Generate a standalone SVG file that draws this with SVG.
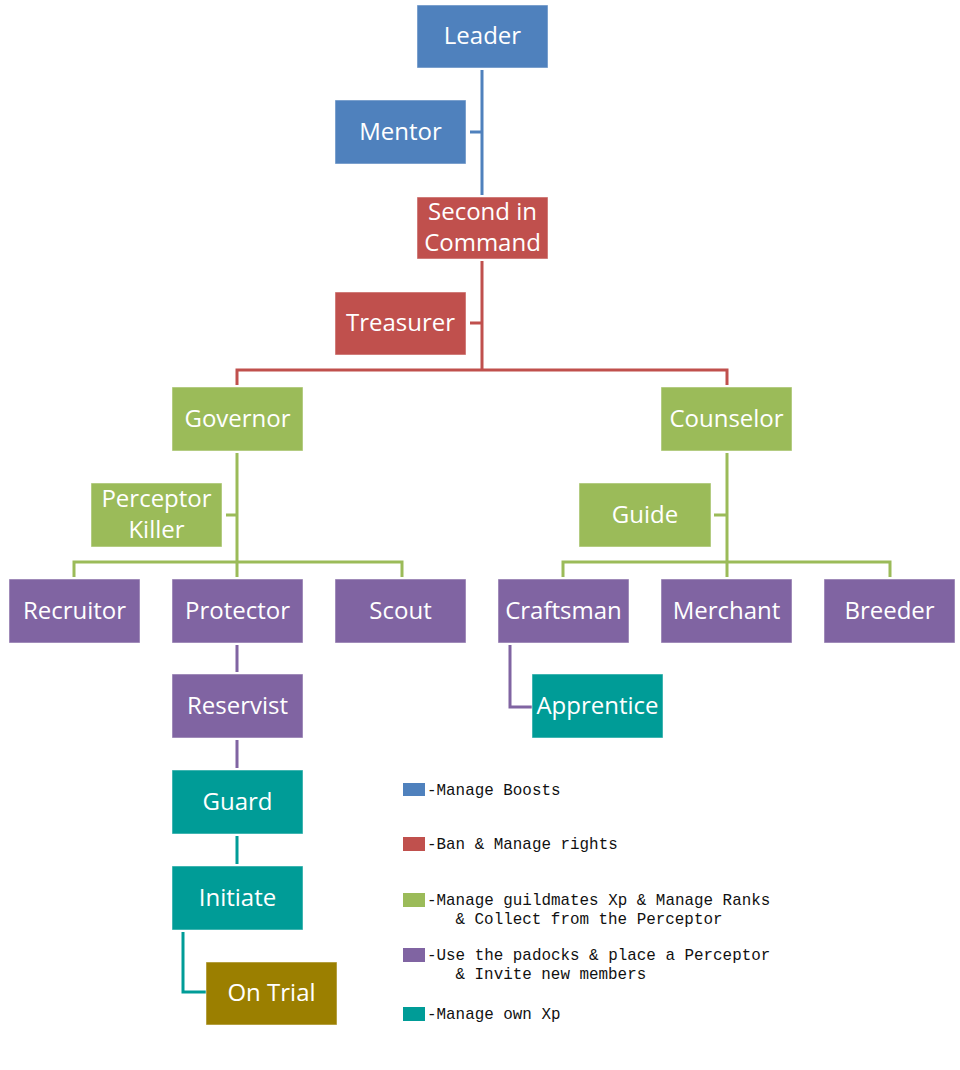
<svg xmlns="http://www.w3.org/2000/svg" width="960" height="1070" viewBox="0 0 960 1070">
<style>
.n rect{stroke:#ffffff;stroke-opacity:0.5;stroke-width:1}
.n text{font-family:"Open Sans",sans-serif;font-size:24px;fill:#ffffff;text-anchor:middle}
.b rect{fill:#4F81BD}.r rect{fill:#C0504D}.g rect{fill:#9BBB59}.p rect{fill:#8064A2}.t rect{fill:#009C97}.o rect{fill:#9B7F00}
.c path{fill:none;stroke-width:3}
.lg text{font-family:"Liberation Mono",monospace;font-size:15.9px;fill:#111111}
</style>
<rect width="960" height="1070" fill="#ffffff"/>
<g class="c">
<path d="M482 70V195M470 132H482" stroke="#4F81BD"/>
<path d="M482 261V370M470 323H482M237 385V370H727V385" stroke="#C0504D"/>
<path d="M237 453V577M226 515H237M74 577V562H402V577" stroke="#9BBB59"/>
<path d="M727 453V577M714 515H727M563 577V562H890V577" stroke="#9BBB59"/>
<path d="M237 645V672M237 740V768M510 645V707H532" stroke="#8064A2"/>
<path d="M237 836V864M183 932V992H206" stroke="#009C97"/>
</g>
<g id="leader" class="n b"><rect x="417" y="5" width="131" height="63"/><text x="482.5" y="44">Leader</text></g>
<g id="mentor" class="n b"><rect x="335" y="100" width="131" height="64"/><text x="400.5" y="140">Mentor</text></g>
<g id="second" class="n r"><rect x="417" y="197" width="131" height="62"/><text x="482.5" y="220">Second in</text><text x="482.5" y="251">Command</text></g>
<g id="treasurer" class="n r"><rect x="335" y="292" width="131" height="63"/><text x="400.5" y="331">Treasurer</text></g>
<g id="governor" class="n g"><rect x="172" y="387" width="131" height="64"/><text x="237.5" y="427">Governor</text></g>
<g id="counselor" class="n g"><rect x="661" y="387" width="131" height="64"/><text x="726.5" y="427">Counselor</text></g>
<g id="perceptor-killer" class="n g"><rect x="91" y="483" width="131" height="64"/><text x="156.5" y="507">Perceptor</text><text x="156.5" y="538">Killer</text></g>
<g id="guide" class="n g"><rect x="579" y="483" width="132" height="64"/><text x="645" y="523">Guide</text></g>
<g id="recruitor" class="n p"><rect x="9" y="579" width="131" height="64"/><text x="74.5" y="619">Recruitor</text></g>
<g id="protector" class="n p"><rect x="172" y="579" width="131" height="64"/><text x="237.5" y="619">Protector</text></g>
<g id="scout" class="n p"><rect x="335" y="579" width="131" height="64"/><text x="400.5" y="619">Scout</text></g>
<g id="craftsman" class="n p"><rect x="498" y="579" width="131" height="64"/><text x="563.5" y="619">Craftsman</text></g>
<g id="merchant" class="n p"><rect x="661" y="579" width="131" height="64"/><text x="726.5" y="619">Merchant</text></g>
<g id="breeder" class="n p"><rect x="824" y="579" width="131" height="64"/><text x="889.5" y="619">Breeder</text></g>
<g id="apprentice" class="n t"><rect x="532" y="674" width="131" height="64"/><text x="597.5" y="714">Apprentice</text></g>
<g id="reservist" class="n p"><rect x="172" y="674" width="131" height="64"/><text x="237.5" y="714">Reservist</text></g>
<g id="guard" class="n t"><rect x="172" y="770" width="131" height="64"/><text x="237.5" y="810">Guard</text></g>
<g id="initiate" class="n t"><rect x="172" y="866" width="131" height="64"/><text x="237.5" y="906">Initiate</text></g>
<g id="on-trial" class="n o"><rect x="206" y="962" width="131" height="63"/><text x="271.5" y="1001">On Trial</text></g>
<g id="legend" class="lg">
<rect x="403" y="783" width="22" height="13" fill="#4F81BD"/><text x="427" y="795">-Manage Boosts</text>
<rect x="403" y="837" width="22" height="14" fill="#C0504D"/><text x="427" y="849">-Ban &amp; Manage rights</text>
<rect x="403" y="893" width="22" height="14" fill="#9BBB59"/><text x="427" y="905">-Manage guildmates Xp &amp; Manage Ranks</text><text x="455.5" y="924">&amp; Collect from the Perceptor</text>
<rect x="403" y="948" width="22" height="14" fill="#8064A2"/><text x="427" y="960">-Use the padocks &amp; place a Perceptor</text><text x="455.5" y="979">&amp; Invite new members</text>
<rect x="403" y="1007" width="22" height="14" fill="#009C97"/><text x="427" y="1019">-Manage own Xp</text>
</g>
</svg>
